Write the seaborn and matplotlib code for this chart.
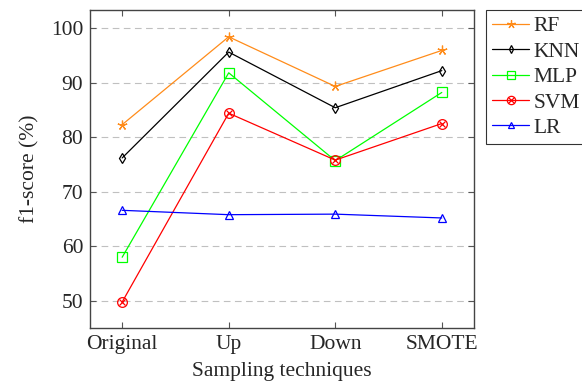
import pandas as pd
import seaborn as sns
import matplotlib.pyplot as plt
from matplotlib.lines import Line2D

techniques = ["Original", "Up", "Down", "SMOTE"]
models = ["RF", "KNN", "MLP", "SVM", "LR"]
rf = [82.3, 98.4, 89.3, 95.9]
knn = [76.2, 95.6, 85.4, 92.2]
mlp = [58.0, 91.8, 75.7, 88.2]
svm = [49.8, 84.4, 75.8, 82.5]
lr = [66.6, 65.8, 65.9, 65.2]

colors = {"RF": "#ff8c1a", "KNN": "black", "MLP": "#00ff00", "SVM": "red", "LR": "blue"}
marks = {"RF": (5, 2, 0), "KNN": "d", "MLP": "s", "SVM": "o", "LR": "^"}
sizes = {"RF": 7, "KNN": 5, "MLP": 7, "SVM": 7, "LR": 6}

df = pd.DataFrame({
    "Técnica": techniques * 5,
    "x": list(range(4)) * 5,
    "Modelo": [m for m in models for _ in techniques],
    "f1": rf + knn + mlp + svm + lr,
})

sns.set_style("ticks")
plt.rcParams["font.family"] = ["Liberation Serif", "DejaVu Serif"]

fig = plt.figure(figsize=(5.82, 3.87), dpi=100)
ax = fig.add_axes([0.155, 0.152, 0.659, 0.822])

for m in models:
    d = df[df["Modelo"] == m]
    sns.lineplot(data=d, x="x", y="f1", color=colors[m], marker=marks[m],
                 markersize=sizes[m], mfc="none", mec=colors[m], mew=0.9,
                 linewidth=0.9, legend=False, ax=ax, zorder=3)
# cruz dentro do círculo do SVM (otimes)
sns.lineplot(data=df[df["Modelo"] == "SVM"], x="x", y="f1", color="red",
             marker="x", markersize=5, mec="red", mew=0.9, linewidth=0,
             legend=False, ax=ax, zorder=4)

ax.set_xlim(-0.3, 3.3)
ax.set_ylim(45, 103.3)
ax.set_xticks(range(4))
ax.set_xticklabels(techniques)
ax.set_yticks([50, 60, 70, 80, 90, 100])
ax.yaxis.grid(True, linestyle=(0, (6, 4)), color="#c0c0c0", linewidth=0.8)
ax.tick_params(axis="both", direction="in", labelsize=15.5, top=True, right=True,
               length=4, color="#555555", pad=5)
for s in ax.spines.values():
    s.set_color("#444444")
    s.set_linewidth(1.0)
ax.set_xlabel("Sampling techniques", fontsize=15.5, labelpad=6)
ax.set_ylabel("f1-score (%)", fontsize=15.5, labelpad=8)

handles = []
for m in models:
    h = Line2D([], [], color=colors[m], marker=marks[m], markersize=sizes[m] - 1,
               mfc="none", mec=colors[m], mew=0.9, linewidth=0.9)
    if m == "SVM":
        hx = Line2D([], [], color="red", marker="x", markersize=4, mew=0.9, linewidth=0)
        h = (h, hx)
    handles.append(h)
leg = fig.legend(handles, models, loc="upper left", bbox_to_anchor=(0.835, 0.975),
                 fontsize=15.5, frameon=True, fancybox=False, edgecolor="black",
                 handlelength=1.7, handletextpad=0.2, borderpad=0.3,
                 labelspacing=0.25, borderaxespad=0)
leg.get_frame().set_linewidth(0.8)

plt.savefig("out.png", dpi=100)
